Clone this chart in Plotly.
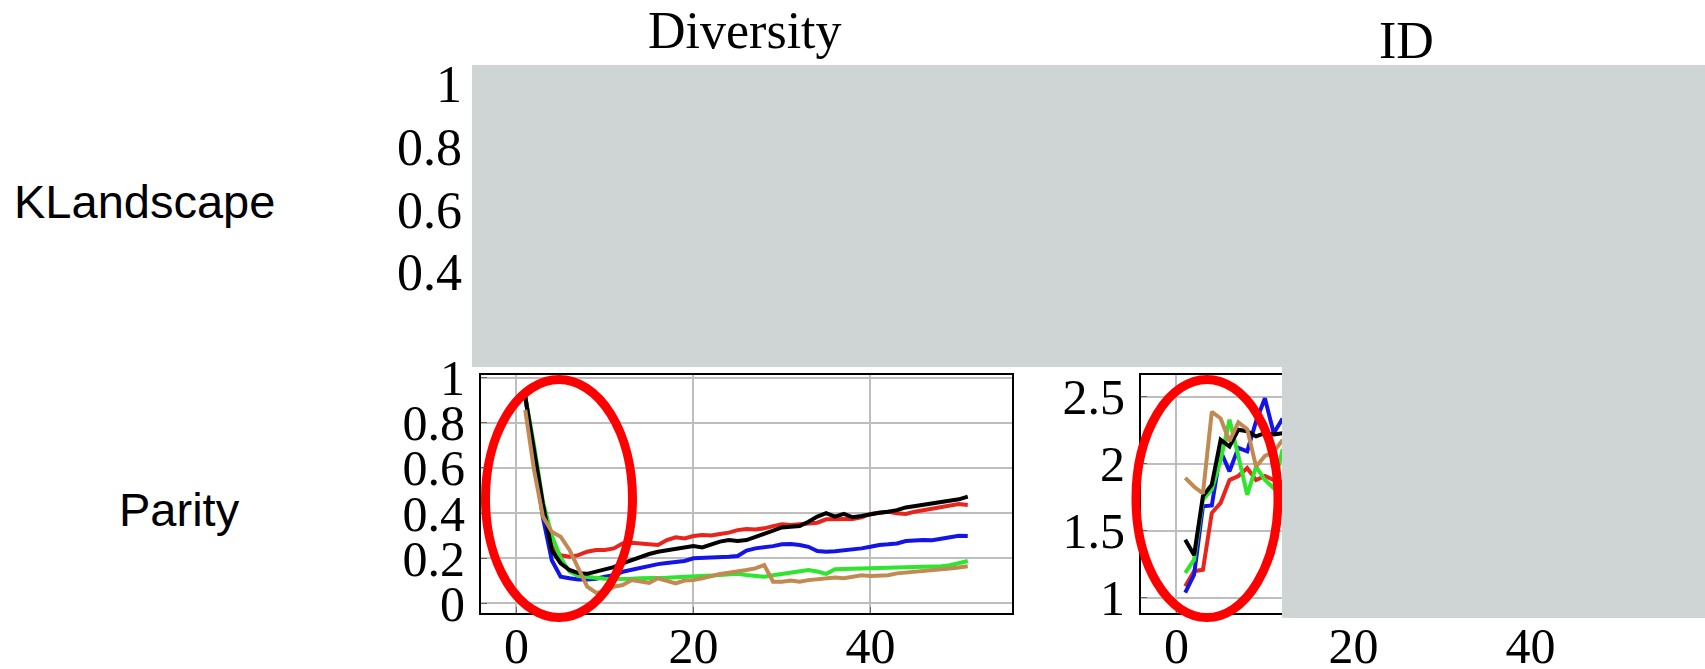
import plotly.graph_objects as go

# ---------------------------------------------------------------- data
steps = list(range(1, 52))

# Diversity on Parity (generations 1..51)
div_black = [0.917, 0.68, 0.44, 0.235, 0.176, 0.147, 0.133, 0.13, 0.14, 0.154,
             0.16, 0.176, 0.19, 0.205, 0.218, 0.228, 0.235, 0.243, 0.247, 0.253,
             0.247, 0.262, 0.273, 0.28, 0.276, 0.28, 0.295, 0.307, 0.324, 0.336,
             0.339, 0.342, 0.361, 0.384, 0.399, 0.384, 0.396, 0.381, 0.387, 0.396,
             0.401, 0.406, 0.413, 0.425, 0.431, 0.436, 0.44, 0.446, 0.455, 0.461, 0.473]
div_red = [0.917, 0.66, 0.42, 0.25, 0.213, 0.206, 0.213, 0.228, 0.236, 0.236,
           0.243, 0.265, 0.268, 0.265, 0.261, 0.258, 0.28, 0.292, 0.287, 0.298,
           0.302, 0.3, 0.307, 0.313, 0.324, 0.329, 0.327, 0.332, 0.342, 0.35,
           0.347, 0.351, 0.354, 0.357, 0.372, 0.372, 0.369, 0.373, 0.381, 0.396,
           0.401, 0.406, 0.399, 0.396, 0.406, 0.413, 0.421, 0.428, 0.433, 0.44, 0.436]
div_blue = [0.917, 0.65, 0.38, 0.19, 0.117, 0.11, 0.105, 0.105, 0.108, 0.117,
            0.124, 0.139, 0.148, 0.158, 0.165, 0.173, 0.178, 0.184, 0.187, 0.199,
            0.2, 0.203, 0.205, 0.206, 0.209, 0.233, 0.243, 0.246, 0.253, 0.261,
            0.262, 0.258, 0.25, 0.231, 0.228, 0.23, 0.233, 0.239, 0.243, 0.25,
            0.258, 0.261, 0.265, 0.276, 0.28, 0.28, 0.279, 0.287, 0.295, 0.299, 0.298]
div_green = [0.917, 0.7, 0.45, 0.3, 0.2, 0.14, 0.12, 0.115, 0.11, 0.108,
             0.107, 0.106, 0.108, 0.11, 0.11, 0.112, 0.113, 0.115, 0.116, 0.117,
             0.12, 0.122, 0.125, 0.128, 0.13, 0.125, 0.12, 0.117, 0.124, 0.13,
             0.135, 0.14, 0.147, 0.14, 0.13, 0.15, 0.151, 0.152, 0.153, 0.154,
             0.155, 0.156, 0.157, 0.158, 0.16, 0.161, 0.162, 0.164, 0.168, 0.176, 0.187]
div_brown = [0.858, 0.59, 0.384, 0.317, 0.295, 0.236, 0.154, 0.073, 0.046, 0.05,
             0.073, 0.08, 0.102, 0.095, 0.09, 0.11, 0.1, 0.087, 0.1, 0.102,
             0.11, 0.12, 0.129, 0.135, 0.139, 0.147, 0.154, 0.169, 0.095, 0.095,
             0.1, 0.095, 0.102, 0.105, 0.11, 0.114, 0.11, 0.117, 0.124, 0.12,
             0.12, 0.124, 0.132, 0.135, 0.138, 0.144, 0.144, 0.15, 0.154, 0.158, 0.164]

# ID on Parity (first generations)
id_steps = list(range(1, 13))
id_black = [1.435, 1.32, 1.76, 1.846, 2.18, 2.13, 2.256, 2.244, 2.206, 2.23, 2.22, 2.23]
id_red = [1.087, 1.2, 1.21, 1.634, 1.71, 1.88, 1.91, 1.97, 1.88, 1.91, 1.88, 1.86]
id_blue = [1.04, 1.174, 1.684, 1.69, 2.095, 1.945, 2.12, 2.095, 2.318, 2.49, 2.23, 2.34]
id_green = [1.187, 1.286, 1.734, 1.81, 2.03, 2.33, 2.06, 1.77, 1.98, 1.88, 1.82, 2.11]
id_brown = [1.896, 1.83, 1.78, 2.39, 2.34, 2.17, 2.31, 2.26, 1.98, 2.06, 2.09, 2.18]

col_titles = ["Diversity", "ID"]
row_titles = ["KLandscape", "Parity"]
div_yticks = [0, 0.2, 0.4, 0.6, 0.8, 1]
div_ylabels = ["0", "0.2", "0.4", "0.6", "0.8", "1"]
id_yticks = [1, 1.5, 2, 2.5]
id_ylabels = ["1", "1.5", "2", "2.5"]
x_ticks = [0, 20, 40]
top_yticks = [0.4, 0.6, 0.8, 1]
top_ylabels = ["0.4", "0.6", "0.8", "1"]

# ---------------------------------------------------------------- layout helpers
W, H = 1705, 669


def px(x):
    return x / W


def py(y):
    return 1 - y / H


series_colors = {
    "red": "#E8241C",
    "blue": "#1414E6",
    "green": "#2DE62D",
    "black": "#000000",
    "brown": "#C18A52",
}

fig = go.Figure()

div_series = [("red", div_red), ("blue", div_blue), ("green", div_green),
              ("black", div_black), ("brown", div_brown)]
id_series = [("red", id_red), ("blue", id_blue), ("green", id_green),
             ("black", id_black), ("brown", id_brown)]

for name, vals in div_series:
    fig.add_trace(go.Scatter(x=steps, y=vals, mode="lines", xaxis="x", yaxis="y",
                             line=dict(color=series_colors[name], width=4),
                             showlegend=False, hoverinfo="skip"))
for name, vals in id_series:
    fig.add_trace(go.Scatter(x=id_steps, y=vals, mode="lines", xaxis="x2", yaxis="y2",
                             line=dict(color=series_colors[name], width=4),
                             showlegend=False, hoverinfo="skip"))
# the KLandscape panel sits under the mask; an empty trace keeps its axes alive
fig.add_trace(go.Scatter(x=[], y=[], mode="lines", xaxis="x3", yaxis="y3",
                         showlegend=False, hoverinfo="skip"))

tick_font = dict(family="Liberation Serif", size=50, color="black")
frame = dict(showline=True, mirror=True, linecolor="black", linewidth=2,
             showgrid=True, gridcolor="#BEBEBE", gridwidth=1.5,
             ticks="inside", ticklen=6, tickcolor="#666666", tickwidth=1,
             zeroline=False, automargin=False, tickfont=tick_font)

bottom_dom = [py(613), py(375)]

fig.update_layout(
    width=W, height=H, autosize=False,
    margin=dict(l=0, r=0, t=0, b=0, pad=0),
    paper_bgcolor="white", plot_bgcolor="white",
    xaxis=dict(domain=[px(481), px(1012)], range=[-4, 56], anchor="y",
               tickvals=x_ticks, ticklabelstandoff=-12, **frame),
    yaxis=dict(domain=bottom_dom, range=[-0.044, 1.013], anchor="x",
               tickvals=div_yticks, ticktext=div_ylabels, ticklabelstandoff=4, **frame),
    xaxis2=dict(domain=[px(1141), px(1672)], range=[-4, 56], anchor="y2",
                tickvals=x_ticks, ticklabelstandoff=-12, **frame),
    yaxis2=dict(domain=bottom_dom, range=[0.888, 2.664], anchor="x2",
                tickvals=id_yticks, ticktext=id_ylabels, ticklabelstandoff=4, **frame),
    xaxis3=dict(domain=[px(481), px(1012)], range=[-4, 56], anchor="y3",
                showticklabels=False, showgrid=False, showline=False, zeroline=False,
                automargin=False),
    yaxis3=dict(domain=[py(367), py(65)], range=[0.0973, 1.0606], anchor="x3",
                tickvals=top_yticks, ticktext=top_ylabels, showgrid=False,
                showline=False, zeroline=False, ticks="", automargin=False,
                ticklabelstandoff=18,
                tickfont=dict(family="Liberation Serif", size=52, color="black")),
)

# Highlight ellipses around the early generations
ellipse_line = dict(color="#FF0000", width=9)
fig.add_shape(type="circle", xref="paper", yref="paper",
              x0=px(485.5), x1=px(632.5), y0=py(617.5), y1=py(379.5),
              line=ellipse_line, layer="above")
fig.add_shape(type="circle", xref="paper", yref="paper",
              x0=px(1136), x1=px(1278), y0=py(617.5), y1=py(379.5),
              line=ellipse_line, layer="above")

# Masked panels
mask = "rgb(207,212,212)"
fig.add_shape(type="rect", xref="paper", yref="paper",
              x0=px(472), x1=px(1705), y0=py(367), y1=py(65),
              fillcolor=mask, line=dict(width=0), layer="above")
fig.add_shape(type="rect", xref="paper", yref="paper",
              x0=px(1282), x1=px(1705), y0=py(618), y1=py(367),
              fillcolor=mask, line=dict(width=0), layer="above")

# Column and row headings
title_font = dict(family="Liberation Serif", size=52, color="black")
fig.add_annotation(text=col_titles[0], x=px(745), y=py(30), xref="paper", yref="paper",
                   xanchor="center", yanchor="middle", showarrow=False, font=title_font)
fig.add_annotation(text=col_titles[1], x=px(1406), y=py(40), xref="paper", yref="paper",
                   xanchor="center", yanchor="middle", showarrow=False, font=title_font)

row_font = dict(family="Liberation Sans", size=47, color="black")
fig.add_annotation(text=row_titles[0], x=px(12), y=py(201), xref="paper", yref="paper",
                   xanchor="left", yanchor="middle", showarrow=False, font=row_font)
fig.add_annotation(text=row_titles[1], x=px(117), y=py(509), xref="paper", yref="paper",
                   xanchor="left", yanchor="middle", showarrow=False, font=row_font)

fig.write_html("out.html")
